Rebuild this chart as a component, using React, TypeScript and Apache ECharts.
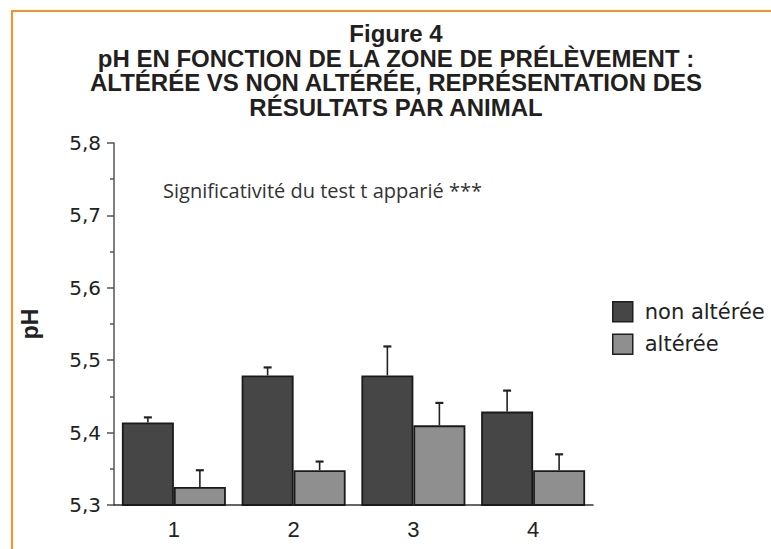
import React, { useEffect, useRef } from "react";
import * as echarts from "echarts";

const categories = ["1", "2", "3", "4"];
const nonAlteree = [5.414, 5.479, 5.479, 5.429];
const nonAltereeErr = [0.007, 0.011, 0.04, 0.029];
const alteree = [5.325, 5.348, 5.41, 5.348];
const altereeErr = [0.023, 0.012, 0.031, 0.022];
const seriesNames = ["non altérée", "altérée"];
const titleLines = [
  "Figure 4",
  "pH EN FONCTION DE LA ZONE DE PRÉLÈVEMENT :",
  "ALTÉRÉE VS NON ALTÉRÉE, REPRÉSENTATION DES",
  "RÉSULTATS PAR ANIMAL",
];
const annotation = "Significativité du test t apparié ***";
const yMin = 5.3;
const yMax = 5.8;
const yInterval = 0.1;

const BAR_W = 52;

function errorSeries(vals: number[], errs: number[], offset: number) {
  return {
    type: "custom",
    z: 5,
    silent: true,
    data: categories.map((_, i) => [i, vals[i], errs[i]]),
    renderItem: (params: any, api: any) => {
      const x = api.value(0);
      const v = api.value(1);
      const e = api.value(2);
      const base = api.coord([x, v]);
      const top = api.coord([x, v + e]);
      const cx = base[0] + offset;
      return {
        type: "group",
        children: [
          {
            type: "line",
            shape: { x1: cx, y1: base[1], x2: cx, y2: top[1] },
            style: { stroke: "#222", lineWidth: 1.6 },
          },
          {
            type: "line",
            shape: { x1: cx - 4, y1: top[1], x2: cx + 4, y2: top[1] },
            style: { stroke: "#222", lineWidth: 2.2 },
          },
        ],
      };
    },
  };
}

export default function App() {
  const ref = useRef<HTMLDivElement>(null);
  useEffect(() => {
    if (!ref.current) return;
    const chart = echarts.init(ref.current, undefined, { renderer: "svg" });
    const titleY = [33.5, 58, 82.5, 107];
    const option: any = {
      animation: false,
      backgroundColor: "#ffffff",
      grid: { left: 114, right: 178, top: 143, bottom: 44, containLabel: false },
      legend: {
        orient: "vertical",
        left: 607,
        top: 296,
        itemWidth: 20,
        itemHeight: 20,
        itemGap: 11,
        data: seriesNames,
        icon: "rect",
        itemStyle: { borderColor: "#1e1e1e", borderWidth: 1.5 },
        textStyle: {
          fontFamily: "DejaVu Sans",
          fontSize: 21,
          color: "#222",
          padding: [0, 0, 0, 7],
        },
      },
      xAxis: {
        type: "category",
        data: categories,
        axisLine: { lineStyle: { color: "#333", width: 1.5 } },
        axisTick: { alignWithLabel: true, length: 5, lineStyle: { color: "#333", width: 1.5 } },
        axisLabel: {
          fontFamily: "Liberation Sans",
          fontSize: 22,
          color: "#222",
          margin: 13,
        },
      },
      yAxis: {
        type: "value",
        min: yMin,
        max: yMax,
        interval: yInterval,
        name: "pH",
        nameLocation: "middle",
        nameGap: 73,
        nameTextStyle: {
          fontFamily: "Liberation Sans",
          fontWeight: "bold",
          fontSize: 23,
          color: "#222",
        },
        axisLine: { show: true, lineStyle: { color: "#555", width: 1.5 } },
        axisTick: { show: true, length: 7, lineStyle: { color: "#555", width: 1.5 } },
        minorTick: { show: true, splitNumber: 2, length: 4, lineStyle: { color: "#555", width: 1.5 } },
        splitLine: { show: false },
        axisLabel: {
          fontFamily: "DejaVu Sans",
          fontSize: 20,
          color: "#222",
          margin: 13,
          formatter: (v: number) => v.toFixed(1).replace(".", ","),
        },
      },
      series: [
        {
          name: seriesNames[0],
          type: "bar",
          data: nonAlteree,
          barWidth: BAR_W,
          barGap: "0%",
          itemStyle: { color: "#464646", borderColor: "#1a1a1a", borderWidth: 1.8 },
        },
        {
          name: seriesNames[1],
          type: "bar",
          data: alteree,
          barWidth: BAR_W,
          barGap: "0%",
          itemStyle: { color: "#8f8f8f", borderColor: "#1a1a1a", borderWidth: 1.8 },
        },
        errorSeries(nonAlteree, nonAltereeErr, -BAR_W / 2),
        errorSeries(alteree, altereeErr, BAR_W / 2),
      ],
      graphic: [
        {
          type: "line",
          shape: { x1: 12, y1: 11, x2: 771, y2: 11 },
          style: { stroke: "#F7931E", lineWidth: 2 },
        },
        {
          type: "line",
          shape: { x1: 12, y1: 10, x2: 12, y2: 549 },
          style: { stroke: "#F7931E", lineWidth: 2 },
        },
        ...titleLines.map((t, i) => ({
          type: "text",
          x: 396,
          y: titleY[i],
          style: {
            text: t,
            fontFamily: "Liberation Sans",
            fontWeight: "bold",
            fontSize: 24,
            fill: "#231F20",
            align: "center",
            verticalAlign: "middle",
          },
        })),
        {
          type: "text",
          x: 163,
          y: 190,
          style: {
            text: annotation,
            fontFamily: "Open Sans",
            fontSize: 20,
            fill: "#333",
            align: "left",
            verticalAlign: "middle",
          },
        },
      ],
    };
    chart.setOption(option);
    return () => chart.dispose();
  }, []);
  return (
    <div
      ref={ref}
      style={{ position: "fixed", left: 0, top: 0, width: 771, height: 549 }}
    />
  );
}
